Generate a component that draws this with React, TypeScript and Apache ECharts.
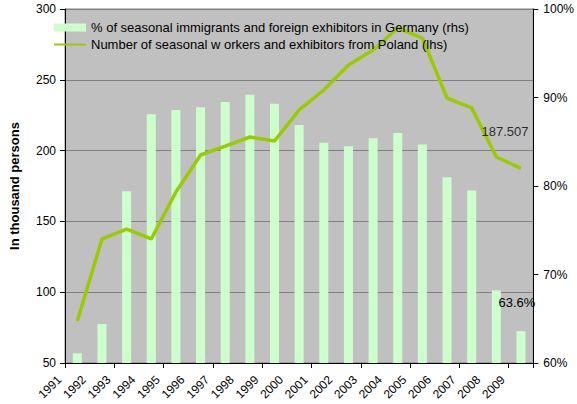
import React, { useEffect, useRef } from "react";
import * as echarts from "echarts";

// Years on the category axis
const years = [
  "1991", "1992", "1993", "1994", "1995", "1996", "1997", "1998", "1999", "2000",
  "2001", "2002", "2003", "2004", "2005", "2006", "2007", "2008", "2009",
];

// Share of seasonal immigrants and foreign exhibitors in Germany (%)
const sharePct = [
  61.1, 64.4, 79.4, 88.1, 88.6, 88.9, 89.5, 90.3, 89.3, 86.9,
  84.9, 84.5, 85.4, 86.0, 84.7, 81.0, 79.5, 68.2, 63.6,
];

// Seasonal workers and exhibitors from Poland (thousand persons)
const polandWorkers = [
  79.7, 137.6, 144.6, 137.6, 170.8, 196.9, 203.2, 209.6, 206.8, 228.7,
  242.8, 260.5, 271.0, 286.6, 279.5, 237.1, 230.1, 195.5, 187.507,
];

const leftTicks = { min: 50, max: 300, interval: 50 };
const rightTicks = { min: 0.6, max: 1.0, interval: 0.1 };

const barName = "% of seasonal immigrants and foreign exhibitors in Germany (rhs)";
const lineName = "Number of seasonal w orkers and exhibitors from Poland (lhs)";

const FONT = "Liberation Sans, Arial, sans-serif";

export default function App() {
  const ref = useRef<HTMLDivElement>(null);

  useEffect(() => {
    if (!ref.current) return;
    const chart = echarts.init(ref.current, undefined, { renderer: "svg" });
    const last = years.length - 1;

    chart.setOption({
      animation: false,
      textStyle: { fontFamily: FONT, color: "#000" },
      grid: {
        left: 51,
        right: 40,
        top: 9,
        bottom: 41,
        show: true,
        backgroundColor: "#C0C0C0",
        borderColor: "#808080",
        borderWidth: 1,
      },
      legend: {
        orient: "vertical",
        left: 53,
        top: 21,
        padding: 0,
        itemWidth: 32,
        itemHeight: 8,
        itemGap: 4,
        textStyle: { fontFamily: FONT, fontSize: 13, color: "#000" },
        data: [
          { name: barName, icon: "rect" },
          // plain line key, no marker
          { name: lineName, itemStyle: { opacity: 0 } },
        ],
      },
      xAxis: [
        {
          type: "category",
          data: years,
          boundaryGap: true,
          axisLine: { lineStyle: { color: "#000", width: 1 } },
          axisTick: { show: true, length: 5, lineStyle: { color: "#000" } },
          axisLabel: { show: false },
          splitLine: { show: false },
        },
        {
          // label-only axis: years sit on the band boundaries
          type: "value",
          position: "bottom",
          min: 0,
          max: years.length,
          interval: 1,
          axisLine: { show: false },
          axisTick: { show: false },
          splitLine: { show: false },
          axisLabel: {
            rotate: 45,
            margin: 9,
            padding: [0, 8, 0, 0],
            fontSize: 12,
            color: "#000",
            fontFamily: FONT,
            formatter: (v: number) => years[v] ?? "",
          },
        },
      ],
      yAxis: [
        {
          type: "value",
          ...leftTicks,
          name: "In thousand persons",
          nameLocation: "middle",
          nameGap: 44,
          nameTextStyle: { fontFamily: FONT, fontSize: 13, fontWeight: "bold", color: "#000" },
          axisLine: { show: true, lineStyle: { color: "#000" } },
          axisTick: { show: true, length: 5, lineStyle: { color: "#000" } },
          axisLabel: { margin: 9, fontSize: 12, color: "#000", fontFamily: FONT },
          splitLine: { show: true, lineStyle: { color: "#808080", width: 1 } },
        },
        {
          type: "value",
          ...rightTicks,
          position: "right",
          axisLine: { show: true, lineStyle: { color: "#000" } },
          axisTick: { show: true, length: 5, lineStyle: { color: "#000" } },
          axisLabel: {
            margin: 10,
            fontSize: 12,
            color: "#000",
            fontFamily: FONT,
            formatter: (v: number) => `${Math.round(v * 100)}%`,
          },
          splitLine: { show: false },
        },
      ],
      series: [
        {
          name: barName,
          type: "bar",
          xAxisIndex: 0,
          yAxisIndex: 1,
          barWidth: 9,
          itemStyle: { color: "#CCFFCC" },
          data: sharePct.map((v, i) =>
            i === last
              ? {
                  value: v / 100,
                  label: {
                    show: true,
                    position: "top",
                    offset: [-4, -17],
                    fontSize: 13,
                    color: "#000",
                    fontFamily: FONT,
                    formatter: `${v.toFixed(1)}%`,
                  },
                }
              : v / 100
          ),
        },
        {
          name: lineName,
          type: "line",
          xAxisIndex: 0,
          yAxisIndex: 0,
          symbol: "none",
          lineStyle: { color: "#99CC00", width: 3.5 },
          itemStyle: { color: "#99CC00" },
          z: 3,
          data: polandWorkers,
        },
        {
          // value label on the latest point of the line
          name: "latest",
          type: "scatter",
          xAxisIndex: 0,
          yAxisIndex: 0,
          symbolSize: 1,
          itemStyle: { color: "rgba(0,0,0,0)" },
          z: 4,
          label: {
            show: true,
            position: "top",
            offset: [-16, -25],
            fontSize: 13,
            color: "#000",
            fontFamily: FONT,
            formatter: (p: any) => Number(p.value[1]).toFixed(3),
          },
          data: [[years[last], polandWorkers[last]]],
        },
      ],
    });

    return () => chart.dispose();
  }, []);

  return (
    <div
      ref={ref}
      style={{ position: "absolute", left: 0, top: 0, width: 577, height: 404 }}
    />
  );
}
